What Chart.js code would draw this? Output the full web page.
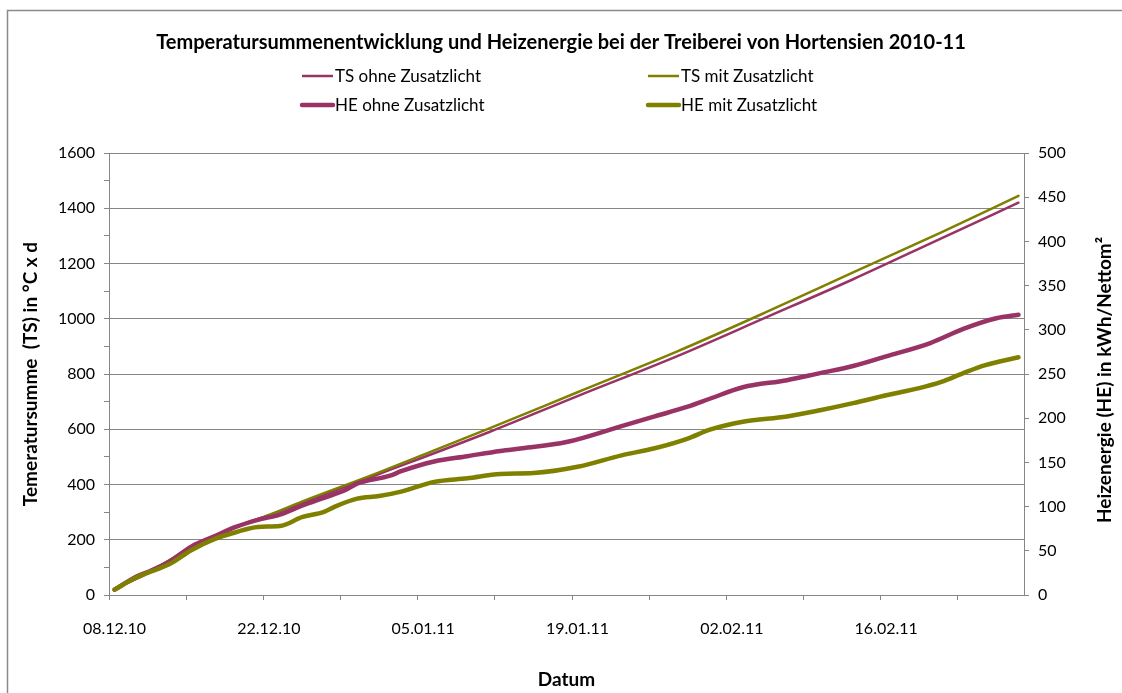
<!DOCTYPE html>
<html>
<head>
<meta charset="utf-8">
<title>Temperatursumme und Heizenergie</title>
<script src="https://cdn.jsdelivr.net/npm/chart.js"></script>
<style>
  html, body { margin: 0; padding: 0; background: #fff; }
  #wrap { width: 1122px; height: 693px; position: relative; }
</style>
</head>
<body>
<div id="wrap"><canvas id="chartCanvas"></canvas></div>
<script>
// Datum (eine Kategorie pro Tag)
const dates = [
  '08.12.10','09.12.10','10.12.10','11.12.10','12.12.10','13.12.10','14.12.10','15.12.10',
  '16.12.10','17.12.10','18.12.10','19.12.10','20.12.10','21.12.10','22.12.10','23.12.10',
  '24.12.10','25.12.10','26.12.10','27.12.10','28.12.10','29.12.10','30.12.10','31.12.10',
  '01.01.11','02.01.11','03.01.11','04.01.11','05.01.11','06.01.11','07.01.11','08.01.11',
  '09.01.11','10.01.11','11.01.11','12.01.11','13.01.11','14.01.11','15.01.11','16.01.11',
  '17.01.11','18.01.11','19.01.11','20.01.11','21.01.11','22.01.11','23.01.11','24.01.11',
  '25.01.11','26.01.11','27.01.11','28.01.11','29.01.11','30.01.11','31.01.11','01.02.11',
  '02.02.11','03.02.11','04.02.11','05.02.11','06.02.11','07.02.11','08.02.11','09.02.11',
  '10.02.11','11.02.11','12.02.11','13.02.11','14.02.11','15.02.11','16.02.11','17.02.11',
  '18.02.11','19.02.11','20.02.11','21.02.11','22.02.11','23.02.11','24.02.11','25.02.11',
  '26.02.11','27.02.11','28.02.11'
];

// Temperatursumme (linke Achse, °C x d)
const tsDays  = [0, 3, 7, 11, 14, 17, 24, 34, 42, 51, 59, 67, 75, 82];
const tsOhne  = [22, 78, 172, 245, 288, 333, 438, 590, 720, 864, 1003, 1143, 1291, 1420];
const tsMit   = [22, 80, 173, 246, 290, 338, 444, 603, 734, 881, 1022, 1168, 1313, 1445];

// Heizenergie (rechte Achse, kWh/Nettom²)
const heOhneDays = [0, 2, 3, 5, 7, 9, 11, 13, 15, 17, 19, 21, 22, 25, 26, 29, 32, 35, 37, 41,
                    46, 49, 52, 54, 57, 61, 64, 67, 70, 74, 77, 80, 82];
const heOhne     = [6, 21, 26, 38, 55, 66, 77, 85, 91, 101, 110, 119, 126, 135, 140, 151, 157, 163, 166, 173,
                    191, 202, 213, 222, 235, 243, 251, 259, 270, 285, 301, 313, 317];
const heMitDays  = [0, 2, 3, 5, 7, 9, 11, 13, 15, 17, 19, 20, 22, 24, 26, 29, 32, 35, 38, 42,
                    46, 49, 52, 54, 57, 61, 64, 67, 70, 73, 75, 77, 79, 82];
const heMit      = [6, 20, 25, 35, 51, 63, 71, 77, 78, 88, 94, 100, 109, 112, 117, 128, 132, 137, 138, 145,
                    158, 166, 177, 187, 196, 202, 209, 217, 226, 234, 241, 251, 260, 269];

const seriesNames = ['TS ohne Zusatzlicht', 'TS mit Zusatzlicht', 'HE ohne Zusatzlicht', 'HE mit Zusatzlicht'];

const PURPLE = '#993366';
const OLIVE = '#808000';
const AXIS = '#868686';
const FONT = 'Lato, "Open Sans", sans-serif';

function pts(days, vals) {
  return days.map((d, i) => ({ x: dates[d], y: vals[i] }));
}

// Rahmen, Legende und rechter Achsentitel
const extras = {
  id: 'extras',
  beforeDraw(chart) {
    const ctx = chart.ctx;
    ctx.save();
    ctx.strokeStyle = '#8a8a8a';
    ctx.lineWidth = 1.5;
    ctx.beginPath();
    ctx.moveTo(7.5, 693);
    ctx.lineTo(7.5, 10.5);
    ctx.lineTo(1122, 10.5);
    ctx.stroke();
    ctx.restore();
  },
  afterDraw(chart) {
    const ctx = chart.ctx;
    ctx.save();
    const items = [
      { x: 302, y: 76, color: PURPLE, w: 2.5, text: seriesNames[0] },
      { x: 648, y: 76, color: OLIVE, w: 2.5, text: seriesNames[1] },
      { x: 302, y: 105, color: PURPLE, w: 4.5, text: seriesNames[2] },
      { x: 648, y: 105, color: OLIVE, w: 4.5, text: seriesNames[3] }
    ];
    ctx.font = '17px ' + FONT;
    ctx.textBaseline = 'middle';
    ctx.textAlign = 'left';
    items.forEach(it => {
      ctx.strokeStyle = it.color;
      ctx.lineWidth = it.w;
      ctx.lineCap = it.w > 3 ? 'round' : 'butt';
      ctx.beginPath();
      ctx.moveTo(it.x, it.y);
      ctx.lineTo(it.x + 31, it.y);
      ctx.stroke();
      ctx.fillStyle = '#000';
      ctx.fillText(it.text, it.x + 33, it.y + 1);
    });

    const area = chart.chartArea;
    ctx.translate(1105, 380);
    ctx.rotate(-Math.PI / 2);
    ctx.font = 'bold 19px ' + FONT;
    ctx.textAlign = 'center';
    ctx.fillText('Heizenergie (HE) in kWh/Nettom²', 0, 0);
    ctx.restore();
  }
};

new Chart(document.getElementById('chartCanvas'), {
  type: 'line',
  data: {
    labels: dates,
    datasets: [
      { label: seriesNames[0], data: pts(tsDays, tsOhne), yAxisID: 'y', borderColor: PURPLE, borderWidth: 2.5, order: 3 },
      { label: seriesNames[1], data: pts(tsDays, tsMit), yAxisID: 'y', borderColor: OLIVE, borderWidth: 2.5, order: 2 },
      { label: seriesNames[2], data: pts(heOhneDays, heOhne), yAxisID: 'y2', borderColor: PURPLE, borderWidth: 4.5, order: 1 },
      { label: seriesNames[3], data: pts(heMitDays, heMit), yAxisID: 'y2', borderColor: OLIVE, borderWidth: 4.5, order: 0 }
    ]
  },
  options: {
    responsive: true,
    maintainAspectRatio: false,
    animation: false,
    layout: { padding: 0 },
    elements: {
      point: { radius: 0 },
      line: { cubicInterpolationMode: 'monotone', fill: false, borderCapStyle: 'round', borderJoinStyle: 'round' }
    },
    plugins: {
      legend: { display: false },
      tooltip: { enabled: false },
      title: {
        display: true,
        text: 'Temperatursummenentwicklung und Heizenergie bei der Treiberei von Hortensien 2010-11',
        color: '#000',
        font: { family: FONT, size: 20, weight: 'bold', lineHeight: 1.2 },
        padding: { top: 31, bottom: 98 }
      }
    },
    scales: {
      x: {
        type: 'category',
        offset: true,
        grid: {
          offset: true,
          drawOnChartArea: false,
          tickLength: 5,
          tickColor: c => (c.index % 7 === 0 ? AXIS : 'rgba(0,0,0,0)')
        },
        border: { color: AXIS, width: 1 },
        ticks: {
          autoSkip: false,
          maxRotation: 0,
          minRotation: 0,
          padding: 19,
          color: '#000',
          font: { family: FONT, size: 16 },
          callback: (v, i) => (i % 14 === 0 ? dates[i] : '')
        },
        title: {
          display: true,
          text: 'Datum',
          color: '#000',
          font: { family: FONT, size: 19, weight: 'bold', lineHeight: 1.2 },
          padding: { top: 0, bottom: 2 }
        },
        afterFit: s => { s.height = 98; }
      },
      y: {
        position: 'left',
        min: 0,
        max: 1600,
        grid: {
          color: c => (c.tick && c.tick.value % 200 === 0 ? AXIS : 'rgba(0,0,0,0)'),
          tickColor: AXIS,
          tickLength: 5
        },
        border: { color: AXIS, width: 1 },
        ticks: {
          stepSize: 100,
          padding: 9,
          color: '#000',
          font: { family: FONT, size: 16 },
          callback: v => (v % 200 === 0 ? v : '')
        },
        title: {
          display: true,
          text: 'Temeratursumme  (TS) in °C x d',
          color: '#000',
          font: { family: FONT, size: 19, weight: 'bold', lineHeight: 1.2 },
          padding: { top: 19 }
        },
        afterFit: s => { s.width = 109; }
      },
      y2: {
        position: 'right',
        min: 0,
        max: 500,
        grid: { drawOnChartArea: false, tickColor: AXIS, tickLength: 5 },
        border: { color: AXIS, width: 1 },
        ticks: {
          stepSize: 50,
          padding: 9,
          color: '#000',
          font: { family: FONT, size: 16 }
        },
        afterFit: s => { s.width = 98; }
      }
    }
  },
  plugins: [extras]
});
</script>
</body>
</html>
